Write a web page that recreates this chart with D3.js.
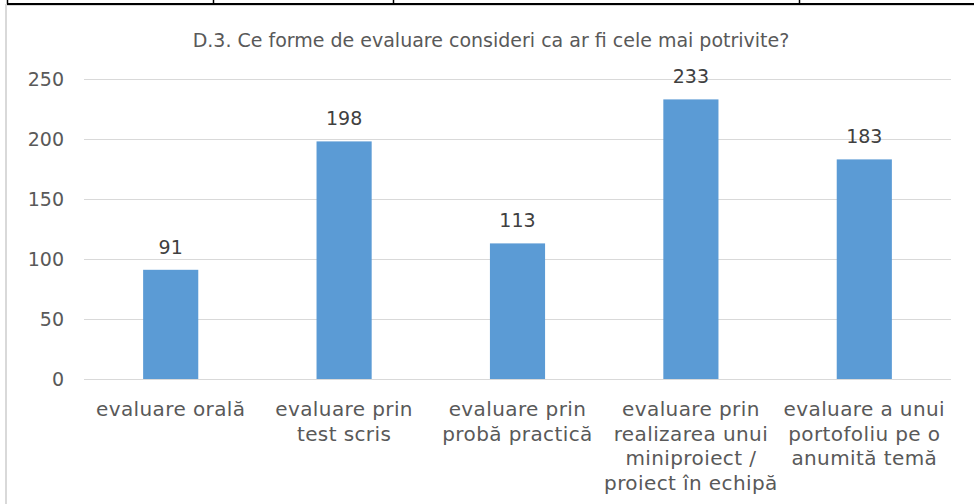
<!DOCTYPE html>
<html><head><meta charset="utf-8">
<script src="https://cdn.jsdelivr.net/npm/d3@7"></script>
<style>html,body{margin:0;padding:0;background:#fff;overflow:hidden}</style>
</head><body>
<script>
const title = "D.3. Ce forme de evaluare consideri ca ar fi cele mai potrivite?";
const categories = [
  ["evaluare orală"],
  ["evaluare prin", "test scris"],
  ["evaluare prin", "probă practică"],
  ["evaluare prin", "realizarea unui", "miniproiect /", "proiect în echipă"],
  ["evaluare a unui", "portofoliu pe o", "anumită temă"]
];
const values = [91, 198, 113, 233, 183];
const yTicks = [0, 50, 100, 150, 200, 250];

const W = 974, H = 504;
const font = "'DejaVu Sans', sans-serif";
const txt = "#595959";
const svg = d3.select("body").append("svg").attr("width", W).attr("height", H);

// table fragment at top
svg.append("rect").attr("x", 6).attr("y", 5).attr("width", W).attr("height", H).attr("fill", "#fff").attr("stroke", "#d9d9d9").attr("stroke-width", 2);
svg.append("line").attr("x1", 7).attr("x2", W).attr("y1", 4).attr("y2", 4).attr("stroke", "#000").attr("stroke-width", 2);
[[7.5, 0, 4], [213.5, 0, 3], [393.5, 0, 3], [799.5, 0, 4]].forEach(d => {
  svg.append("line").attr("x1", d[0]).attr("x2", d[0]).attr("y1", d[1]).attr("y2", d[2]).attr("stroke", "#000").attr("stroke-width", 1.5);
});

const x0 = 84, x1 = 951, yTop = 79, yBot = 379;
const y = d3.scaleLinear().domain([0, 250]).range([yBot, yTop]);
const p = 0.682;
const x = d3.scaleBand().domain(d3.range(values.length)).range([x0, x1]).paddingInner(p).paddingOuter(p / 2);

svg.append("text").attr("x", 491).attr("y", 47).attr("text-anchor", "middle")
  .attr("font-family", font).attr("font-size", 19).attr("fill", txt).text(title);

const yAxis = d3.axisLeft(y).tickValues(yTicks).tickSize(-(x1 - x0)).tickPadding(20);
const gy = svg.append("g").attr("transform", `translate(${x0},0)`).call(yAxis);
gy.select(".domain").remove();
gy.selectAll(".tick line").attr("stroke", "#d9d9d9").attr("stroke-width", 1);
gy.selectAll(".tick text").attr("font-family", font).attr("font-size", 19).attr("fill", txt);

svg.append("g").selectAll("rect").data(values).join("rect")
  .attr("x", (d, i) => x(i)).attr("width", x.bandwidth())
  .attr("y", d => y(d)).attr("height", d => y(0) - y(d))
  .attr("fill", "#5b9bd5");

svg.append("g").selectAll("text").data(values).join("text")
  .attr("x", (d, i) => x(i) + x.bandwidth() / 2).attr("y", d => y(d) - 16)
  .attr("text-anchor", "middle").attr("font-family", font).attr("font-size", 19).attr("fill", "#404040")
  .text(d => d);

const cat = svg.append("g");
categories.forEach((lines, i) => {
  const cx = x(i) + x.bandwidth() / 2;
  const t = cat.append("text").attr("text-anchor", "middle").attr("font-family", font)
    .attr("font-size", 20).attr("letter-spacing", 0.4).attr("fill", txt);
  lines.forEach((l, j) => t.append("tspan").attr("x", cx).attr("y", 416 + j * 24.5).text(l));
});
</script>
</body></html>
